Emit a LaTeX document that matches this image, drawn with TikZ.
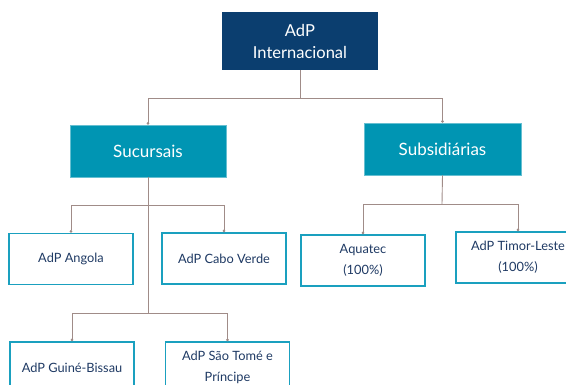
\documentclass[tikz,border=0pt]{standalone}
\usepackage{fontspec}
\setmainfont{Lato}
\usetikzlibrary{arrows.meta}
\usetikzlibrary{positioning}
\definecolor{adpnavy}{HTML}{0B3E6F}
\definecolor{adpteal}{HTML}{0095B3}
\definecolor{adpframe}{HTML}{1AA0BF}
\definecolor{adptext}{HTML}{1F3A64}
\definecolor{adpline}{HTML}{A08C88}
\tikzset{%
    headbox/.style={fill=adpnavy, text=white, minimum width=156pt, minimum height=58pt,
        align=center, font=\fontsize{16.5}{22}\selectfont},
    groupbox/.style={fill=adpteal, draw=adpteal!60!white, line width=0.6pt, text=white,
        minimum width=156pt, minimum height=52pt, font=\fontsize{17}{20}\selectfont},
    unitbox/.style={draw=adpframe, line width=1.8pt, text=adptext, fill=white,
        minimum width=124pt, minimum height=51pt, align=center,
        font=\fontsize{12.8}{21}\selectfont},
    link/.style={draw=adpline, line width=0.9pt},
    linkto/.style={link, -{Circle[length=2.6pt]}},
}

\begin{document}
\begin{tikzpicture}[x=1pt,y=-1pt]
\useasboundingbox (0,0) rectangle (566,385);
\clip (0,0) rectangle (566,385);
\node (head) [headbox] at (300,41) {AdP\\Internacional};
\node (suc) [groupbox] at (148,151) {Sucursais};
\node (sub) [groupbox, minimum width=157pt] at (442.5,149) {Subsidiárias};
\node (ang) [unitbox] at (71,259) {AdP Angola};
\node (cabo) [unitbox] at (224,258.5) {AdP Cabo Verde};
\node (guine) [unitbox] at (72,367.5) {AdP Guiné-Bissau};
\node (stome) [unitbox] at (227.5,367.5) {AdP São Tomé e\\Príncipe};
\node (aqua) [unitbox] at (363,260.5) {Aquatec\\(100\%)};
\node (timor) [unitbox] at (518,257.5) {AdP Timor-Leste\\(100\%)};
\coordinate (hj) at (300,98);
\coordinate (sj1) at (148,205);
\coordinate (sj2) at (148,313);
\coordinate (bj) at (442,204);
\path [link] (head.south) -- (hj);
\path [linkto] (hj) -| (suc.north);
\path [linkto] (hj) -| (sub.north);
\path [link] (suc.south) -- (sj2);
\path [linkto] (sj1) -| (ang.north);
\path [linkto] (sj1) -| (cabo.north);
\path [linkto] (sj2) -| (guine.north);
\path [linkto] (sj2) -| (stome.north);
\path [link] (sub.south) -- (bj);
\path [linkto] (bj) -| (aqua.north);
\path [linkto] (bj) -| (timor.north);
\end{tikzpicture}
\end{document}
